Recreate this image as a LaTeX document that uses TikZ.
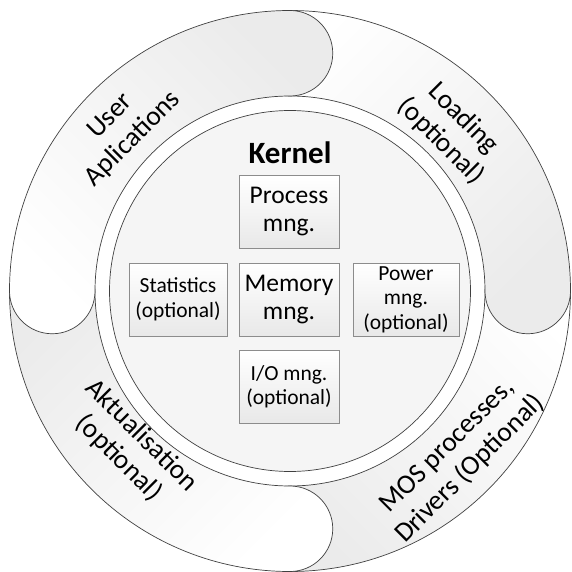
\documentclass[tikz,border=0pt]{standalone}
\usepackage{fontspec}
\setmainfont{Carlito}

\begin{document}
\begin{tikzpicture}[x=1pt,y=1pt]
\tikzstyle{every node}+=[inner sep=0pt]
\tikzstyle{seg}=[draw=black!75, line width=0.7pt, top color=black!8, bottom color=white]
\tikzstyle{ringtext}=[align=center, font=\fontsize{27.5}{32}\selectfont]
\tikzstyle{box}=[draw=black!45, line width=0.8pt, top color=white, bottom color=black!9, align=center, minimum height=73]
\tikzstyle{big}=[font=\fontsize{25.5}{28}\selectfont]
\tikzstyle{small}=[font=\fontsize{21.5}{24.5}\selectfont]
\useasboundingbox (0,0) rectangle (571,-572);
\begin{scope}[shift={(290,-291)}]
\draw [seg, shading angle=135] (-90:280.5) arc [start angle=-90, end angle=0, radius=280.5] arc [start angle=0, end angle=180, radius=42.75] arc [start angle=0, end angle=-90, radius=195] arc [start angle=90, end angle=270, radius=42.75] -- cycle;
\draw [seg, shading angle=-135] (0:280.5) arc [start angle=0, end angle=90, radius=280.5] arc [start angle=90, end angle=270, radius=42.75] arc [start angle=90, end angle=0, radius=195] arc [start angle=180, end angle=360, radius=42.75] -- cycle;
\draw [seg, shading angle=45] (180:280.5) arc [start angle=180, end angle=270, radius=280.5] arc [start angle=270, end angle=450, radius=42.75] arc [start angle=270, end angle=180, radius=195] arc [start angle=360, end angle=540, radius=42.75] -- cycle;
\draw [seg, shading angle=-45] (90:280.5) arc [start angle=90, end angle=180, radius=280.5] arc [start angle=180, end angle=360, radius=42.75] arc [start angle=180, end angle=90, radius=195] arc [start angle=270, end angle=450, radius=42.75] -- cycle;
\end{scope}
\node (core) [circle, draw=black!75, line width=0.7pt, fill=black!4, minimum size=361] at (290,-291) {};
\node (user) [ringtext, rotate=45] at (122,-128) {User\\Aplications};
\node (loading) [ringtext, rotate=-45] at (452,-130) {Loading\\(optional)};
\node (aktual) [ringtext, rotate=-45] at (130,-447) {Aktualisation\\(optional)};
\node (mos) [ringtext, rotate=45] at (459,-458) {MOS processes,\\Drivers (Optional)};
\node (kernel) [font=\fontsize{31}{34}\selectfont\bfseries] at (290,-153) {Kernel};
\node (process) [box, big, minimum width=100] at (289,-212) {Process\\mng.};
\node (memory) [box, big, minimum width=100] at (289,-299.5) {Memory\\mng.};
\node (stats) [box, small, minimum width=98] at (178,-299.5) {Statistics\\(optional)};
\node (power) [box, small, minimum width=106] at (406,-299.5) {Power\\mng.\\(optional)};
\node (io) [box, small, minimum width=100] at (289,-387) {I/O mng.\\(optional)};
\end{tikzpicture}
\end{document}
